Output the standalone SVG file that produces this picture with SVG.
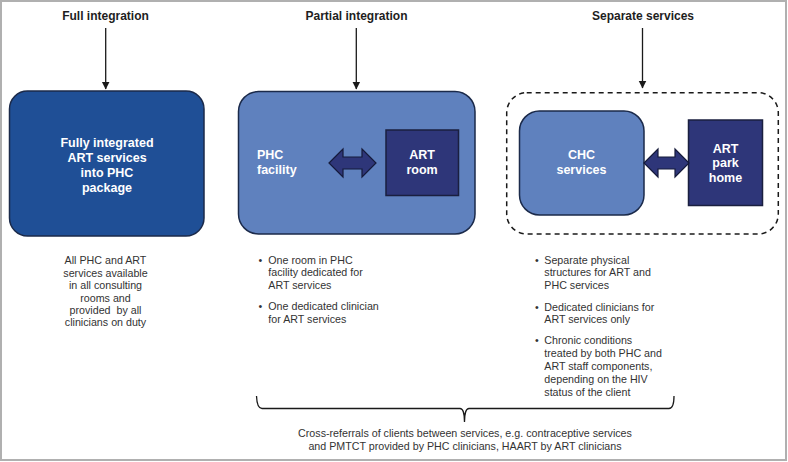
<svg xmlns="http://www.w3.org/2000/svg" width="788" height="462" viewBox="0 0 788 462">
<defs>
<marker id="ah" markerWidth="8" markerHeight="9" refX="7.5" refY="4" orient="auto" markerUnits="userSpaceOnUse" viewBox="0 0 8 8">
<path d="M0,0 L8,4 L0,8 Z" fill="#1a1a1a"/>
</marker>
<style>
.title{font-family:"Liberation Sans",Arial,sans-serif;font-weight:bold;font-size:12px;fill:#1e1e1e;text-anchor:middle}
.bt{font-family:"Liberation Sans",Arial,sans-serif;font-weight:bold;font-size:12.5px;fill:#ffffff}
.c{text-anchor:middle}
.body{font-family:"Liberation Sans",Arial,sans-serif;font-size:10.7px;fill:#333333}
.conn{stroke:#1a1a1a;stroke-width:1.3;fill:none}
.dark{fill:#1f4f96;stroke:#1b2a4a;stroke-width:1.5}
.light{fill:#5f81be;stroke:#1b2a4a;stroke-width:1.5}
.navy{fill:#2e3679;stroke:#1a1f3f;stroke-width:1.5}
.dbl{fill:#2e3679;stroke:#151a3a;stroke-width:1.2}
</style>
</defs>
<rect x="1" y="1" width="785" height="459" fill="#ffffff" stroke="#b0b0b0" stroke-width="2"/>

<g id="titles">
<text class="title" x="105.5" y="20">Full integration</text>
<text class="title" x="356.5" y="20">Partial integration</text>
<text class="title" x="643" y="20">Separate services</text>
</g>

<g id="full">
<rect class="dark" x="9.5" y="91" width="194.5" height="145" rx="18"/>
<text class="bt c" x="107" y="146.5">Fully integrated</text>
<text class="bt c" x="107" y="162">ART services</text>
<text class="bt c" x="107" y="177">into PHC</text>
<text class="bt c" x="107" y="192">package</text>
</g>

<g id="partial">
<rect class="light" x="238.5" y="91.5" width="236.5" height="142.5" rx="20"/>
<text class="bt" x="257" y="158.5">PHC</text>
<text class="bt" x="257" y="174">facility</text>
</g>

<g id="art-room">
<rect class="navy" x="386" y="130" width="72.5" height="65.5"/>
<text class="bt c" x="422" y="159">ART</text>
<text class="bt c" x="422" y="174">room</text>
</g>

<g id="separate">
<rect x="506.7" y="92.7" width="271.6" height="141.3" rx="20" fill="none" stroke="#1a1a1a" stroke-width="1.5" stroke-dasharray="5,4"/>
</g>

<g id="chc">
<rect class="light" x="519.5" y="111" width="124.5" height="104" rx="20"/>
<text class="bt c" x="581.5" y="158.5">CHC</text>
<text class="bt c" x="581.5" y="173.5">services</text>
</g>

<g id="art-park">
<rect class="navy" x="688.5" y="120" width="74" height="85.5"/>
<text class="bt c" x="725.5" y="152.5">ART</text>
<text class="bt c" x="725.5" y="167.3">park</text>
<text class="bt c" x="725.5" y="182">home</text>
</g>

<g id="connectors">
<line class="conn" x1="105.7" y1="28" x2="105.7" y2="89" marker-end="url(#ah)"/>
<line class="conn" x1="356.3" y1="28" x2="356.3" y2="89" marker-end="url(#ah)"/>
<line class="conn" x1="642.5" y1="28" x2="642.5" y2="88" marker-end="url(#ah)"/>
<path class="dbl" d="M329,163 L343,149 L343,157 L362,157 L362,149 L376,163 L362,177 L362,169 L343,169 L343,177 Z"/>
<path class="dbl" d="M644,163 L658,149 L658,157 L675,157 L675,149 L689,163 L675,177 L675,169 L658,169 L658,177 Z"/>
<path class="conn" d="M256.5,396 Q257,408.5 262,408.5 L460,408.5 Q464.5,408.5 464.5,422 Q464.5,408.5 469,408.5 L669,408.5 Q674,408.5 674,396"/>
</g>

<g id="desc-full">
<text class="body c" x="105.5" y="264">All PHC and ART</text>
<text class="body c" x="105.5" y="276.5">services available</text>
<text class="body c" x="105.5" y="289">in all consulting</text>
<text class="body c" x="105.5" y="301.5">rooms and</text>
<text class="body c" x="105.5" y="314" xml:space="preserve">provided  by all</text>
<text class="body c" x="105.5" y="326.3">clinicians on duty</text>
</g>

<g id="desc-partial">
<text class="body" x="258.5" y="263.5">•</text>
<text class="body" x="268.3" y="263.5">One room in PHC</text>
<text class="body" x="268.3" y="276">facility dedicated for</text>
<text class="body" x="268.3" y="288.5">ART services</text>
<text class="body" x="258.5" y="310">•</text>
<text class="body" x="268.3" y="310">One dedicated clinician</text>
<text class="body" x="268.3" y="322.5">for ART services</text>
</g>

<g id="desc-separate">
<text class="body" x="535" y="263.5">•</text>
<text class="body" x="544.3" y="263.5">Separate physical</text>
<text class="body" x="544.3" y="276">structures for ART and</text>
<text class="body" x="544.3" y="288.5">PHC services</text>
<text class="body" x="535" y="310.5">•</text>
<text class="body" x="544.3" y="310.5">Dedicated clinicians for</text>
<text class="body" x="544.3" y="323">ART services only</text>
<text class="body" x="535" y="344">•</text>
<text class="body" x="544.3" y="344">Chronic conditions</text>
<text class="body" x="544.3" y="357">treated by both PHC and</text>
<text class="body" x="544.3" y="370">ART staff components,</text>
<text class="body" x="544.3" y="383">depending on the HIV</text>
<text class="body" x="544.3" y="396">status of the client</text>
</g>

<g id="cross-referrals">
<text class="body c" x="465" y="437">Cross-referrals of clients between services, e.g. contraceptive services</text>
<text class="body c" x="465" y="449.5">and PMTCT provided by PHC clinicians, HAART by ART clinicians</text>
</g>
</svg>
